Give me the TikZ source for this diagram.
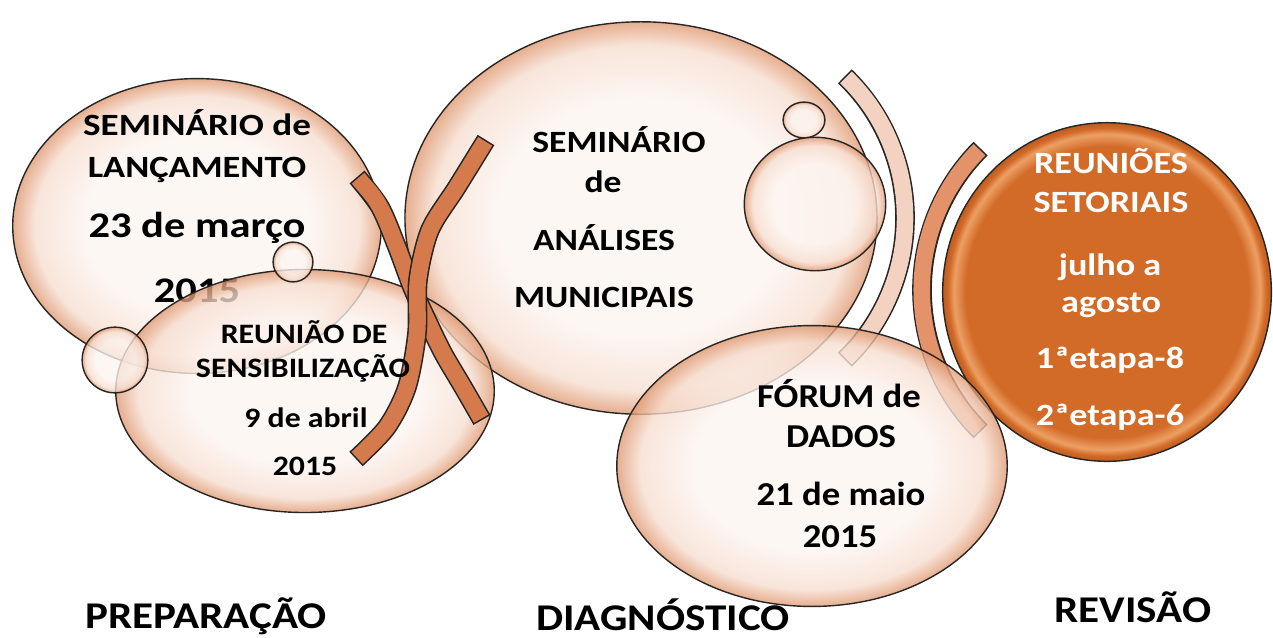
\documentclass[tikz,border=0pt]{standalone}
\usepackage{fontspec}
\setmainfont{Carlito}
\usetikzlibrary{shapes.geometric}
\definecolor{bubin}{RGB}{253,245,241}
\definecolor{bubmid}{RGB}{247,222,208}
\definecolor{bubout}{RGB}{224,152,112}
\definecolor{bandorange}{RGB}{212,122,76}
\definecolor{bandlight}{RGB}{228,146,106}
\definecolor{bandpale}{RGB}{243,210,194}
\definecolor{setorange}{RGB}{210,106,40}
\definecolor{setlight}{RGB}{236,160,100}
\definecolor{setdark}{RGB}{190,92,30}
\pgfdeclareradialshading{bubble}{\pgfpointorigin}{color(0bp)=(bubin); color(15bp)=(bubin); color(22bp)=(bubmid); color(25bp)=(bubout); color(50bp)=(bubout)}
\pgfdeclareradialshading{orangeball}{\pgfpointorigin}{color(0bp)=(setorange); color(21.5bp)=(setorange); color(23.3bp)=(setlight); color(24.2bp)=(setorange); color(25bp)=(setdark); color(50bp)=(setdark)}
\tikzset{
  bubble/.style = {shape=ellipse, draw=black!85, line width=0.8pt,
                   shading=bubble, fill opacity=0.78, inner sep=0pt},
  bub/.style 2 args = {bubble, minimum width=#1*1.1338pt,
                       minimum height=#2*1.1338pt},
  band/.style = {preaction={draw=black!85, line width=11.2pt,
                   shorten <=0pt, shorten >=0pt},
                 draw=#1, line width=9.4pt,
                 shorten <=0.9pt, shorten >=0.9pt},
  txt/.style  = {anchor=base, inner sep=0pt,
                 font=\bfseries\fontsize{#1}{#1}\selectfont},
  wtxt/.style = {txt=#1, text=white, xscale=1.17},
  phase/.style = {txt=21.5, xscale=1.14}
}

\begin{document}
\begin{tikzpicture}[x=0.02cm, y=-0.02cm]
  \path[use as bounding box, fill=white] (0,0) rectangle (1273,637);

  % preparacao
  \node[bub={185}{148}] (lanc) at (197,226) {};
  \node[txt=17.6, xscale=1.2] (lanc1) at (197,135) {SEMINÁRIO de};
  \node[txt=17.6, xscale=1.18] (lanc2) at (197,177) {LANÇAMENTO};
  \node[txt=20.5, xscale=1.18] (lanc3) at (197,237) {23 de março};
  \node[txt=20.5, xscale=1.18] (lanc4) at (197,302) {2015};

  % diagnostico
  \node[bub={237}{197}] (anal) at (641,218) {};
  \node[txt=17.6, xscale=1.15] (anal1) at (619,152) {SEMINÁRIO};
  \node[txt=17.6, xscale=1.15] (anal2) at (603,192) {de};
  \node[txt=17.6, xscale=1.15] (anal3) at (604,250) {ANÁLISES};
  \node[txt=17.6, xscale=1.15] (anal4) at (604,307) {MUNICIPAIS};
  \node[bub={21}{18}] (gota1) at (804,120) {};
  \node[bub={71}{67}] (gota2) at (815,204) {};

  \node[bub={190}{122}] (sens) at (305,391) {};

  \draw[band=bandorange] plot[smooth] coordinates
    {(357,177) (380,207) (397,247) (412,287) (427,320) (443,353) (463,387) (482,420)};
  \draw[band=bandorange] plot[smooth] coordinates
    {(486,140) (457,187) (430,230) (418,280) (417,333) (407,387) (387,427) (356,459)};

  \node[txt=16, xscale=1.13] (sens1) at (304,343) {REUNIÃO DE};
  \node[txt=16, xscale=1.13] (sens2) at (303,377) {SENSIBILIZAÇÃO};
  \node[txt=16, xscale=1.13] (sens3) at (306,427) {9 de abril};
  \node[txt=16, xscale=1.13] (sens4) at (305,475) {2015};

  \node[bub={33}{33}] (gota3) at (115,360) {};
  \node[bub={20}{20}] (gota4) at (293,262) {};

  \draw[band=bandpale] (708,218) ++(-46:197) arc[start angle=-46, end angle=46, radius=197];
  \draw[band=bandlight] (1122,290) ++(135:200) arc[start angle=135, end angle=225, radius=200];

  % revisao
  \node[shape=ellipse, draw=black!85, line width=0.8pt, shading=orangeball,
        minimum width=165*1.1338pt, minimum height=170*1.1338pt] (setor) at (1107,292) {};
  \node[wtxt=17.6] (setor1) at (1111,173) {REUNIÕES};
  \node[wtxt=17.6] (setor2) at (1111,212) {SETORIAIS};
  \node[wtxt=17.6] (setor3) at (1110,275) {julho a};
  \node[wtxt=17.6] (setor4) at (1111,312) {agosto};
  \node[wtxt=17.6] (setor5) at (1110,368) {1ªetapa-8};
  \node[wtxt=17.6] (setor6) at (1110,425) {2ªetapa-6};

  \node[bub={196}{141}] (forum) at (812,466) {};
  \node[txt=19, xscale=1.1] (forum1) at (839,407) {FÓRUM de};
  \node[txt=19, xscale=1.1] (forum2) at (841,447) {DADOS};
  \node[txt=19, xscale=1.1] (forum3) at (841,505) {21 de maio};
  \node[txt=19, xscale=1.1] (forum4) at (840,547) {2015};

  % fases
  \node[phase] (prep) at (206,628) {PREPARAÇÃO};
  \node[phase] (diag) at (663,630) {DIAGNÓSTICO};
  \node[phase] (rev) at (1133,622) {REVISÃO};
\end{tikzpicture}
\end{document}
